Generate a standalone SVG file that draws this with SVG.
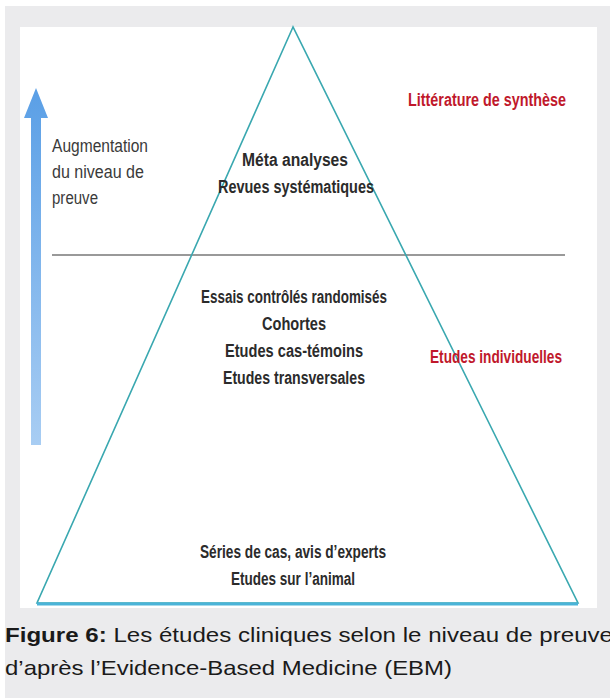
<svg xmlns="http://www.w3.org/2000/svg" width="610" height="700" viewBox="0 0 610 700">
<style>
.t{font-family:"Liberation Sans",Arial,sans-serif;font-size:17.5px;fill:#2b2b2b;font-weight:bold;}
.c{text-anchor:middle;}
.l{font-weight:normal;fill:#3a3a3a;}
.r{font-family:"Liberation Sans",Arial,sans-serif;font-size:17.5px;fill:#c0182b;font-weight:bold;}
.cap{font-family:"Liberation Sans",Arial,sans-serif;font-size:21px;fill:#1a1a1a;}
</style>
<defs>
<linearGradient id="ag" x1="0" y1="0" x2="0" y2="1">
<stop offset="0" stop-color="#5a9fe6"/>
<stop offset="1" stop-color="#a8cdf3"/>
</linearGradient>
</defs>
<rect x="0" y="0" width="610" height="700" fill="#ffffff"/>
<rect x="5" y="6" width="605" height="692" fill="#ebebed"/>
<rect x="20" y="27" width="577" height="581" fill="#ffffff"/>
<g id="arrow">
<path d="M31,445 L31,118 L24,118 L36,88 L48,118 L41,118 L41,445 Z" fill="url(#ag)"/>
</g>
<g id="divider">
<line x1="52" y1="255" x2="565" y2="255" stroke="#777" stroke-width="1.5"/>
</g>
<g id="pyramid">
<path d="M293,27 L37,603 L578,603 Z" fill="none" stroke="#3aa8b0" stroke-width="1.6"/>
<line x1="37" y1="604" x2="578" y2="604" stroke="#4ab3d8" stroke-width="3"/>
</g>
<g id="label-augmentation">
<text class="t l" x="52" y="152" textLength="96" lengthAdjust="spacingAndGlyphs">Augmentation</text>
<text class="t l" x="52" y="178" textLength="92" lengthAdjust="spacingAndGlyphs">du niveau de</text>
<text class="t l" x="52" y="204" textLength="46" lengthAdjust="spacingAndGlyphs">preuve</text>
</g>
<g id="level-synthese">
<text class="t c" x="295" y="166" textLength="106" lengthAdjust="spacingAndGlyphs">Méta analyses</text>
<text class="t c" x="296" y="193" textLength="156" lengthAdjust="spacingAndGlyphs">Revues systématiques</text>
</g>
<g id="level-individuelles">
<text class="t c" x="294" y="303" textLength="186" lengthAdjust="spacingAndGlyphs">Essais contrôlés randomisés</text>
<text class="t c" x="294" y="330" textLength="64" lengthAdjust="spacingAndGlyphs">Cohortes</text>
<text class="t c" x="294" y="357" textLength="138" lengthAdjust="spacingAndGlyphs">Etudes cas-témoins</text>
<text class="t c" x="294" y="384" textLength="142" lengthAdjust="spacingAndGlyphs">Etudes transversales</text>
</g>
<g id="level-base">
<text class="t c" x="293" y="558" textLength="186" lengthAdjust="spacingAndGlyphs">Séries de cas, avis d’experts</text>
<text class="t c" x="293" y="585" textLength="124" lengthAdjust="spacingAndGlyphs">Etudes sur l’animal</text>
</g>
<g id="cat-litterature">
<text class="r" x="408" y="106" textLength="158" lengthAdjust="spacingAndGlyphs">Littérature de synthèse</text>
</g>
<g id="cat-etudes">
<text class="r" x="430" y="363" textLength="132" lengthAdjust="spacingAndGlyphs">Etudes individuelles</text>
</g>
<g id="caption">
<text class="cap" x="5" y="642" textLength="608" lengthAdjust="spacingAndGlyphs"><tspan font-weight="bold">Figure 6:</tspan> Les études cliniques selon le niveau de preuve</text>
<text class="cap" x="5" y="675" textLength="447" lengthAdjust="spacingAndGlyphs">d’après l’Evidence-Based Medicine (EBM)</text>
</g>
</svg>
